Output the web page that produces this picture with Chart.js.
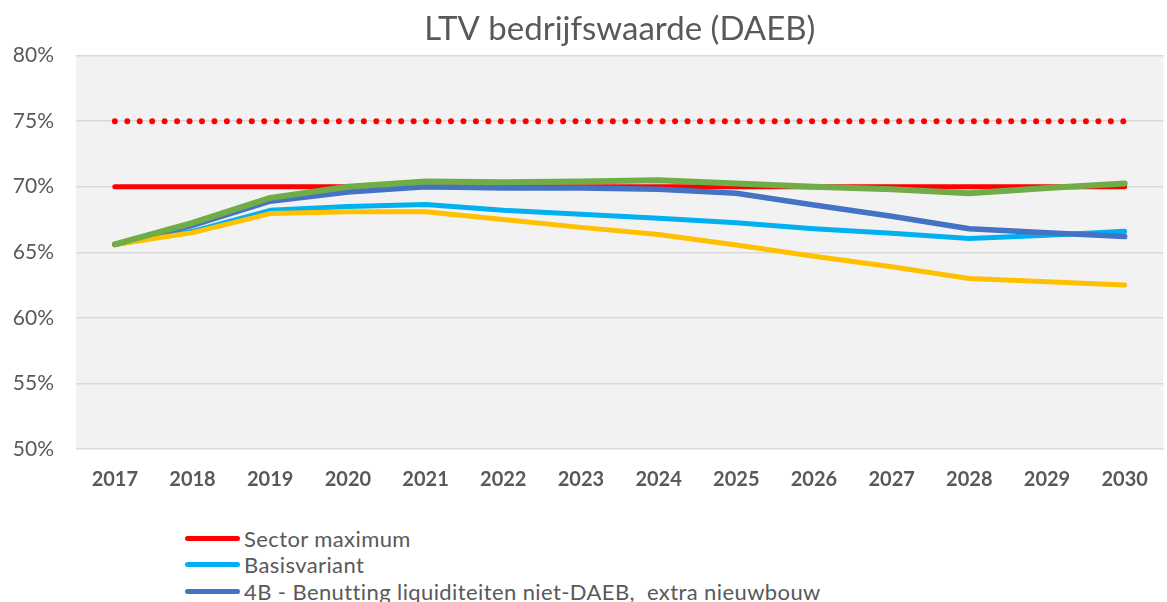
<!DOCTYPE html>
<html>
<head>
<meta charset="utf-8">
<script src="https://cdn.jsdelivr.net/npm/chart.js@4/dist/chart.umd.min.js"></script>
<style>
  html, body { margin: 0; padding: 0; background: #fff; overflow: hidden; }
  #wrap { position: relative; width: 1167px; height: 602px; overflow: hidden; }
  #chart { position: absolute; left: 0; top: 0; }
  #legend { position: absolute; left: 185px; top: 525px; font-family: Lato, sans-serif; font-size: 22px; letter-spacing: 0.4px; color: #595959; white-space: pre; }
  #legend .item { display: flex; align-items: center; height: 26.5px; }
  #legend .swatch { width: 55px; height: 5px; border-radius: 3px; margin-right: 4px; }
</style>
</head>
<body>
<div id="wrap">
  <canvas id="chart" width="1167" height="510"></canvas>
  <div id="legend"></div>
</div>
<script>
const years = ['2017', '2018', '2019', '2020', '2021', '2022', '2023', '2024', '2025', '2026', '2027', '2028', '2029', '2030']
const sectorMax = [70, 70, 70, 70, 70, 70, 70, 70, 70, 70, 70, 70, 70, 70]
const sectorMaxDotted = [75, 75, 75, 75, 75, 75, 75, 75, 75, 75, 75, 75, 75, 75]
const basisvariant = [65.6, 66.6, 68.2, 68.5, 68.65, 68.2, 67.9, 67.6, 67.25, 66.8, 66.45, 66.05, 66.3, 66.6]
const variant4B = [65.6, 67.05, 68.9, 69.6, 70.0, 69.9, 69.9, 69.8, 69.5, 68.6, 67.75, 66.8, 66.5, 66.2]
const variantGeel = [65.6, 66.5, 67.95, 68.1, 68.1, 67.5, 66.9, 66.35, 65.55, 64.7, 63.9, 63.0, 62.75, 62.5]
const variantGroen = [65.6, 67.25, 69.15, 70.0, 70.4, 70.35, 70.4, 70.5, 70.25, 70.0, 69.8, 69.5, 69.9, 70.25]
const yTicks = [50, 55, 60, 65, 70, 75, 80]

const FONT = 'Lato, "Open Sans", sans-serif'
const GREY = '#595959'

// light grey plot background, like the spreadsheet original
const plotBg = {
  id: 'plotBg',
  beforeDraw(chart) {
    const { ctx, chartArea: a } = chart
    ctx.save()
    ctx.fillStyle = '#f2f2f2'
    ctx.fillRect(a.left, a.top, a.right - a.left, a.bottom - a.top)
    ctx.restore()
  },
}

const line = (label, data, color, order, extra = {}) => ({
  label, data, order,
  borderColor: color,
  backgroundColor: color,
  borderWidth: 5,
  borderCapStyle: 'round',
  borderJoinStyle: 'round',
  pointRadius: 0,
  tension: 0,
  fill: false,
  ...extra,
})

const datasets = [
  line('Sector maximum', sectorMax, '#FF0000', 5),
  line('Basisvariant', basisvariant, '#00B0F0', 4),
  line('4B - Benutting liquiditeiten niet-DAEB,  extra nieuwbouw', variant4B, '#4472C4', 3, { borderWidth: 5.5 }),
  line('Variant geel', variantGeel, '#FFC000', 2),
  line('Variant groen', variantGroen, '#70AD47', 1, { borderWidth: 6 }),
  line('Sector maximum 75%', sectorMaxDotted, '#FF0000', 6, { borderWidth: 6, borderDash: [0, 12.45] }),
]

const chart = new Chart(document.getElementById('chart'), {
  type: 'line',
  data: { labels: years, datasets },
  plugins: [plotBg],
  options: {
    responsive: false,
    animation: false,
    layout: { padding: 0 },
    scales: {
      x: {
        offset: true,
        grid: { display: false, drawTicks: false },
        border: { display: false },
        ticks: { color: GREY, padding: 19, font: { family: FONT, size: 20, weight: 'bold' } },
        afterFit: s => { s.height = 61 },
      },
      y: {
        min: 50, max: 80,
        afterBuildTicks: s => { s.ticks = yTicks.map(v => ({ value: v })) },
        grid: { color: '#d9d9d9', lineWidth: 1.5, drawTicks: false },
        border: { display: false },
        ticks: { color: GREY, padding: 22, font: { family: FONT, size: 21 }, callback: v => v + '%' },
        afterFit: s => { s.width = 76 },
      },
    },
    plugins: {
      legend: { display: false },
      tooltip: { enabled: false },
      title: {
        display: true,
        text: 'LTV bedrijfswaarde (DAEB)',
        color: GREY,
        fullSize: false,
        font: { family: FONT, size: 33, weight: 'normal' },
        padding: { top: 10, bottom: 6 },
      },
    },
  },
})

// legend below the chart, one entry per row; only the first entries fit in view
const legendEl = document.getElementById('legend')
chart.data.datasets.slice(0, 3).forEach(ds => {
  const item = document.createElement('div')
  item.className = 'item'
  item.innerHTML = `<span class="swatch" style="background:${ds.borderColor}"></span><span>${ds.label}</span>`
  legendEl.appendChild(item)
})
</script>
</body>
</html>
